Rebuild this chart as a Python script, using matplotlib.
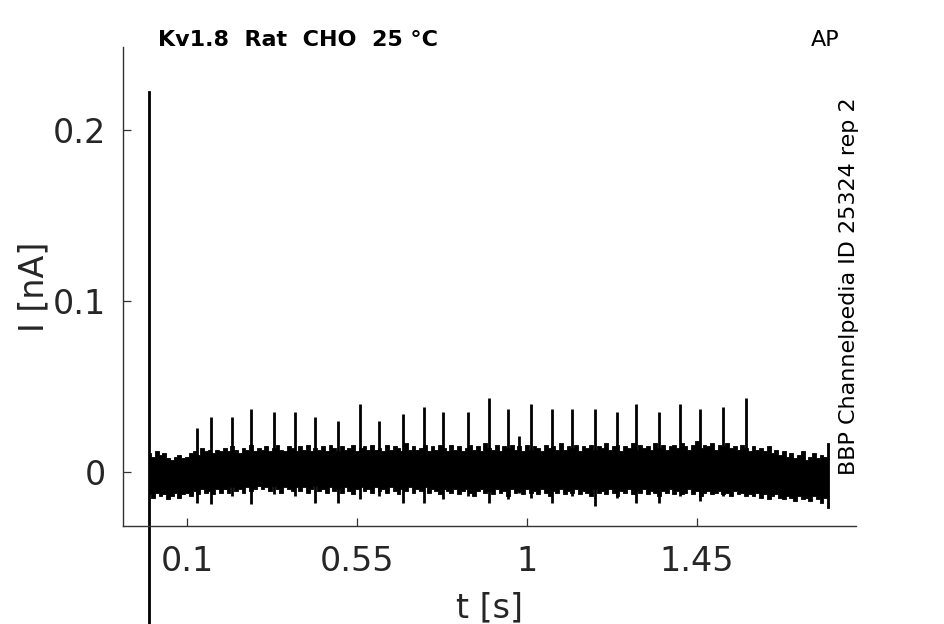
import numpy as np
import matplotlib
matplotlib.use("Agg")
import matplotlib.pyplot as plt

# ---- data ----
env_t = [round(0.01 * i, 2) for i in range(181)]
env_upper = [
    0.011, 0.009, 0.012, 0.010, 0.011, 0.008, 0.007, 0.009, 0.010, 0.008,
    0.009, 0.011, 0.012, 0.010, 0.014, 0.012, 0.013, 0.011, 0.013, 0.012,
    0.014, 0.012, 0.015, 0.013, 0.011, 0.014, 0.013, 0.016, 0.012, 0.014,
    0.013, 0.015, 0.012, 0.014, 0.016, 0.013, 0.012, 0.015, 0.014, 0.012,
    0.015, 0.013, 0.016, 0.012, 0.014, 0.013, 0.015, 0.012, 0.016, 0.014,
    0.012, 0.015, 0.013, 0.014, 0.016, 0.012, 0.014, 0.015, 0.013, 0.016,
    0.013, 0.014, 0.012, 0.016, 0.013, 0.015, 0.014, 0.012, 0.017, 0.013,
    0.015, 0.013, 0.014, 0.016, 0.012, 0.015, 0.013, 0.016, 0.014, 0.012,
    0.016, 0.013, 0.015, 0.012, 0.014, 0.016, 0.013, 0.015, 0.012, 0.017,
    0.014, 0.013, 0.016, 0.012, 0.015, 0.014, 0.016, 0.013, 0.015, 0.012,
    0.016, 0.013, 0.015, 0.014, 0.012, 0.016, 0.014, 0.015, 0.013, 0.017,
    0.013, 0.015, 0.014, 0.016, 0.012, 0.015, 0.014, 0.016, 0.013, 0.015,
    0.014, 0.017, 0.013, 0.015, 0.016, 0.012, 0.015, 0.014, 0.017, 0.013,
    0.016, 0.014, 0.015, 0.013, 0.017, 0.014, 0.016, 0.013, 0.015, 0.016,
    0.014, 0.017, 0.015, 0.013, 0.016, 0.018, 0.014, 0.016, 0.015, 0.017,
    0.013, 0.016, 0.015, 0.017, 0.014, 0.015, 0.013, 0.016, 0.014, 0.012,
    0.015, 0.013, 0.014, 0.012, 0.015, 0.011, 0.013, 0.010, 0.012, 0.009,
    0.011, 0.008, 0.010, 0.012, 0.007, 0.009, 0.011, 0.008, 0.010, 0.009,
    0.017]
env_lower = [
    -0.013, -0.015, -0.012, -0.014, -0.013, -0.016, -0.014, -0.012, -0.015, -0.013,
    -0.012, -0.014, -0.011, -0.013, -0.010, -0.012, -0.011, -0.013, -0.010, -0.012,
    -0.010, -0.012, -0.009, -0.011, -0.010, -0.012, -0.009, -0.011, -0.010, -0.008,
    -0.010, -0.009, -0.011, -0.008, -0.010, -0.012, -0.009, -0.010, -0.011, -0.009,
    -0.011, -0.009, -0.012, -0.010, -0.008, -0.011, -0.010, -0.012, -0.009, -0.011,
    -0.010, -0.012, -0.009, -0.011, -0.013, -0.010, -0.009, -0.011, -0.010, -0.012,
    -0.009, -0.011, -0.010, -0.012, -0.009, -0.011, -0.013, -0.010, -0.011, -0.009,
    -0.012, -0.010, -0.011, -0.009, -0.012, -0.010, -0.011, -0.013, -0.010, -0.011,
    -0.012, -0.010, -0.013, -0.011, -0.010, -0.012, -0.014, -0.011, -0.010, -0.012,
    -0.011, -0.013, -0.010, -0.012, -0.011, -0.014, -0.010, -0.012, -0.011, -0.013,
    -0.010, -0.012, -0.011, -0.013, -0.010, -0.012, -0.014, -0.011, -0.012, -0.010,
    -0.013, -0.011, -0.012, -0.010, -0.013, -0.011, -0.012, -0.014, -0.010, -0.012,
    -0.011, -0.013, -0.010, -0.012, -0.014, -0.011, -0.012, -0.010, -0.013, -0.011,
    -0.012, -0.010, -0.013, -0.011, -0.012, -0.014, -0.011, -0.012, -0.010, -0.013,
    -0.011, -0.013, -0.012, -0.010, -0.013, -0.011, -0.014, -0.012, -0.011, -0.013,
    -0.012, -0.011, -0.013, -0.012, -0.014, -0.011, -0.013, -0.012, -0.014, -0.013,
    -0.014, -0.012, -0.015, -0.013, -0.016, -0.014, -0.013, -0.015, -0.016, -0.014,
    -0.015, -0.017, -0.014, -0.016, -0.015, -0.017, -0.014, -0.016, -0.018, -0.015,
    -0.021]

spike_t = [0.127, 0.164, 0.219, 0.270, 0.330, 0.386, 0.439, 0.500, 0.558, 0.608,
           0.672, 0.727, 0.778, 0.844, 0.900, 0.950, 0.979, 1.011, 1.066, 1.119,
           1.180, 1.238, 1.289, 1.350, 1.405, 1.458, 1.519, 1.580]
spike_top = [0.026, 0.032, 0.032, 0.037, 0.035, 0.035, 0.032, 0.030, 0.040, 0.030,
             0.034, 0.038, 0.035, 0.035, 0.043, 0.037, 0.021, 0.040, 0.037, 0.037,
             0.037, 0.035, 0.040, 0.035, 0.040, 0.037, 0.038, 0.043]
spike_bottom = [-0.018, -0.019, -0.014, -0.019, -0.013, -0.014, -0.018, -0.018, -0.016, -0.014,
                -0.018, -0.018, -0.016, -0.014, -0.018, -0.016, -0.012, -0.015, -0.018, -0.014,
                -0.020, -0.015, -0.018, -0.018, -0.014, -0.017, -0.014, -0.013]

artifact_t = [0.0, 0.0]
artifact_i = [0.222, -0.30]

xticks = [0.1, 0.55, 1.0, 1.45]
xticklabels = ["0.1", "0.55", "1", "1.45"]
yticks = [0.0, 0.1, 0.2]
yticklabels = ["0", "0.1", "0.2"]

# ---- figure ----
fig = plt.figure(figsize=(9.45, 6.24), dpi=100)
ax = fig.add_axes([0.1302, 0.157, 0.7756, 0.7677])

ax.fill_between(env_t, env_lower, env_upper, step="mid", color="black",
                lw=0.6, edgecolor="black")
ax.vlines(spike_t, spike_bottom, spike_top, color="black", lw=2.0)
ax.plot(artifact_t, artifact_i, color="black", lw=2.0, clip_on=False)

ax.set_xlim(-0.069, 1.871)
ax.set_ylim(-0.0316, 0.2485)

for s in ["top", "right"]:
    ax.spines[s].set_visible(False)
for s in ["left", "bottom"]:
    ax.spines[s].set_color("#333333")
    ax.spines[s].set_linewidth(1.0)

ax.set_xticks(xticks)
ax.set_xticklabels(xticklabels)
ax.set_yticks(yticks)
ax.set_yticklabels(yticklabels)
ax.tick_params(axis="both", direction="in", length=6, width=0.9, color="#333333",
               labelsize=24, labelcolor="#262626")
ax.tick_params(axis="x", pad=14)
ax.tick_params(axis="y", pad=12)

ax.set_xlabel("t [s]", fontsize=24, color="#262626", labelpad=9)
ax.set_ylabel("I [nA]", fontsize=24, color="#262626", labelpad=2)

ax.text(0.048, 1.015, "Kv1.8  Rat  CHO  25 °C", transform=ax.transAxes,
        fontsize=16, fontweight="bold", ha="left", va="center", color="black")
ax.text(0.977, 1.015, "AP", transform=ax.transAxes,
        fontsize=16, ha="right", va="center", color="black")
ax.text(0.99, 0.5, "BBP Channelpedia ID 25324 rep 2", transform=ax.transAxes,
        fontsize=16, rotation=90, ha="center", va="center", color="black")

fig.savefig("out.png", dpi=100)
